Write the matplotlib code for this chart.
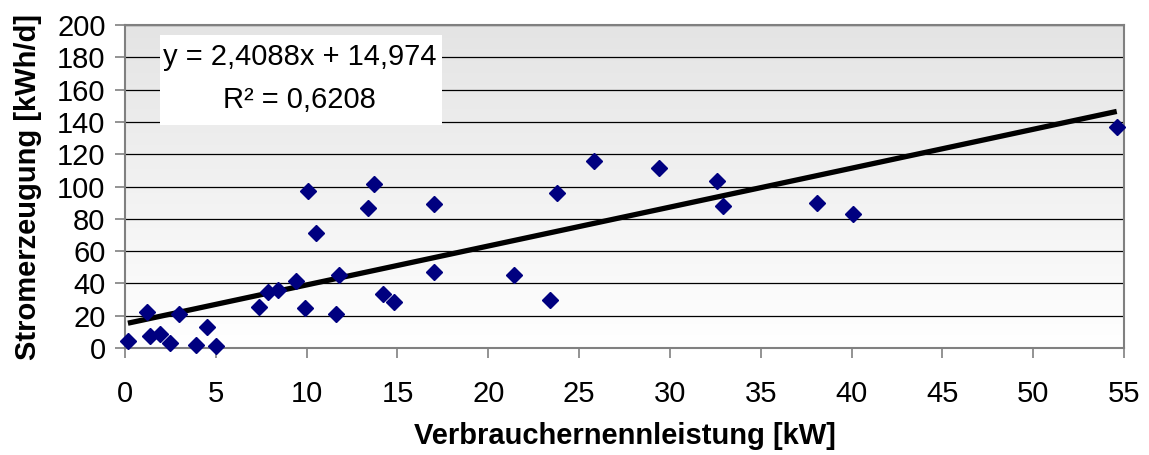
import numpy as np
import matplotlib
matplotlib.use("Agg")
import matplotlib.pyplot as plt
from matplotlib.patches import Rectangle

plt.rcParams['font.family'] = ['Liberation Sans', 'DejaVu Sans']

# Verbrauchernennleistung [kW]
leistung = [0.16, 1.2, 1.4, 1.95, 2.5, 3.0, 3.9, 4.5, 5.0, 7.4, 7.9, 8.4, 9.4, 9.9,
            10.1, 10.5, 11.6, 11.8, 13.4, 13.7, 14.2, 14.8, 17.0, 17.0, 21.4, 23.4,
            23.8, 25.8, 29.4, 32.6, 32.9, 38.1, 40.1, 54.6]
# Stromerzeugung [kWh/d]
strom = [4.5, 22.5, 7.5, 8.5, 2.8, 20.8, 2.0, 13.3, 1.5, 25.5, 34.8, 36.0, 41.6, 25.0,
         97.0, 71.5, 21.3, 45.2, 86.5, 101.6, 33.4, 28.3, 89.3, 46.8, 45.2, 29.5,
         95.7, 115.5, 111.5, 103.6, 87.8, 90.0, 82.8, 137.0]

slope = 2.4088
intercept = 14.974
r2 = 0.6208

W, H = 1149, 455
fig = plt.figure(figsize=(W / 100, H / 100), dpi=100)
ax = fig.add_axes([125 / W, (H - 348) / H, (1124 - 125) / W, (348 - 25) / H])

# gradient background, grey at top fading to white
grad = np.linspace(0, 1, 256).reshape(-1, 1)
cmap = matplotlib.colors.LinearSegmentedColormap.from_list('g', ['#ffffff', '#e4e4e4'])
ax.imshow(grad, extent=[0, 1, 0, 1], transform=ax.transAxes, origin='lower',
          cmap=cmap, aspect='auto', zorder=0)

ax.set_xlim(0, 55)
ax.set_ylim(0, 200)
ax.set_xticks(range(0, 56, 5))
ax.set_yticks(range(0, 201, 20))
ax.grid(axis='y', color='black', lw=0.9, zorder=1)

xs = np.array([min(leistung), max(leistung)])
ax.plot(xs, slope * xs + intercept, color='black', lw=3.8, zorder=3,
        solid_capstyle='butt')
ax.plot(leistung, strom, 'D', color='#000080', markersize=8.5, mec='#000080',
        zorder=4, clip_on=False)

for s in ax.spines.values():
    s.set_color('#808080')
    s.set_linewidth(1.5)
ax.tick_params(direction='out', length=7, width=1.2, color='#808080',
               labelsize=21)
ax.tick_params(axis='y', pad=7)
ax.tick_params(axis='x', pad=16)

ax.set_xlabel('Verbrauchernennleistung [kW]', fontsize=21, fontweight='bold', labelpad=10)
ax.set_ylabel('Stromerzeugung [kWh/d]', fontsize=21, fontweight='bold', labelpad=11)

ax.add_patch(Rectangle((0.035, 0.69), 0.282, 0.279, transform=ax.transAxes,
                       facecolor='white', edgecolor='none', zorder=5))
ax.text(0.175, 0.901, 'y = 2,4088x + 14,974', transform=ax.transAxes,
        ha='center', va='center', fontsize=21, zorder=6)
ax.text(0.175, 0.768, 'R² = 0,6208', transform=ax.transAxes,
        ha='center', va='center', fontsize=21, zorder=6)

fig.savefig('out.png', dpi=100)
